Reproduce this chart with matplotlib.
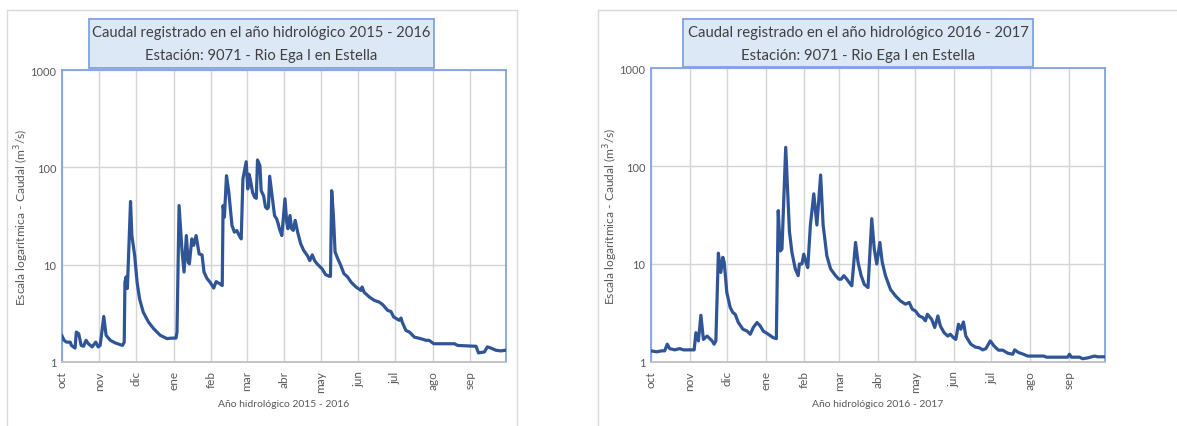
import matplotlib
matplotlib.use("Agg")
import matplotlib.pyplot as plt
import matplotlib.patches as mpatches
import pandas as pd

# ---------------- data ----------------
month_labels = ['oct', 'nov', 'dic', 'ene', 'feb', 'mar', 'abr', 'may', 'jun', 'jul', 'ago', 'sep']
y_ticks = [1, 10, 100, 1000]
y_tick_labels = ['1', '10', '100', '1000']

title1_a = "Caudal registrado en el año hidrológico 2015 - 2016"
title1_b = "Estación: 9071 - Rio Ega I en Estella"
xlabel1 = "Año hidrológico 2015 - 2016"
title2_a = "Caudal registrado en el año hidrológico 2016 - 2017"
title2_b = "Estación: 9071 - Rio Ega I en Estella"
xlabel2 = "Año hidrológico 2016 - 2017"
ylabel = "Escala logarítmica - Caudal (m$^3$/s)"

start1 = "2015-10-01"
end1 = "2016-09-30"
start2 = "2016-10-01"
end2 = "2017-09-30"

# day offsets from start of hydrological year, and flow (m3/s)
days1 = [0, 2, 4, 7, 8, 11, 12, 14, 16, 18, 20, 22, 25, 28, 30, 31.6, 34.6, 36.5, 40, 44,
         48, 50, 51.4, 52, 53, 54, 55, 56.6, 57.7, 60, 62, 64, 67, 71.4, 75.6, 81, 86.6, 90.7, 94, 94.8,
         96.5, 99, 100.6, 102.5, 104, 105, 107, 108.5, 110.5, 112, 113, 115.4, 117, 119.5, 122, 125, 127, 130.5, 132, 132.7,
         133.8, 135.5, 137.4, 140, 142, 144, 146, 147.6, 149, 151.7, 153, 154, 155, 157, 158.6, 160, 161, 163, 164, 166,
         167.6, 169, 170, 171, 173, 175, 176.7, 178, 179, 181, 183.6, 185, 186, 187.7, 189, 190.4, 192, 194, 196.5, 199,
         202, 204, 206, 208, 210, 214, 217, 220, 221, 222, 223.4, 224.8, 227, 229.5, 232, 235, 238, 242, 246, 247,
         248.7, 253, 257, 261, 264, 268, 270.7, 273, 277.5, 279, 280, 283, 286, 290, 295, 299.5, 302, 306, 323, 325.6,
         340.7, 342.7, 347.6, 350, 353, 357, 361, 365]
flow1 = [1.88, 1.67, 1.6, 1.6, 1.48, 1.39, 2.03, 1.95, 1.48, 1.45, 1.67, 1.54, 1.43, 1.6, 1.43, 1.48, 2.94, 1.88, 1.67, 1.57,
         1.51, 1.48, 1.6, 6.6, 7.5, 5.7, 12.4, 44.6, 19.9, 12.4, 6.6, 4.47, 3.26, 2.57, 2.2, 1.88, 1.74, 1.76, 1.76, 2.03,
         40.5, 13.5, 8.4, 19.9, 10.6, 10.2, 18.4, 15.8, 19.9, 15.2, 12.9, 12.6, 8.4, 7.2, 6.6, 5.75, 6.7, 6.3, 6.1, 40.5,
         30.8, 82, 55.5, 25.3, 21.6, 22.4, 19.9, 18.4, 76, 114, 60, 85, 76, 55, 49.4, 48, 119, 104, 57.6, 51,
         39, 37.5, 39, 81, 51, 32, 29.6, 26.4, 23.4, 19.9, 47.5, 27.4, 23.4, 32, 23.4, 22.5, 28.5, 21.6, 16.4, 14,
         12.4, 11, 12.6, 11, 10.2, 9.1, 7.9, 7.6, 7.6, 57.6, 32, 13.5, 11.5, 9.8, 8.1, 7.5, 6.6, 5.9, 5.44, 5.9,
         5.2, 4.65, 4.3, 4.13, 3.88, 3.39, 3.3, 2.9, 2.68, 2.83, 2.57, 2.11, 2.03, 1.8, 1.74, 1.67, 1.67, 1.54, 1.54, 1.48,
         1.45, 1.24, 1.27, 1.43, 1.39, 1.32, 1.30, 1.32]

days2 = [0, 4.5, 8.6, 11, 13, 15, 19, 23, 26, 31, 34.6, 36, 38, 40, 42, 45, 49, 50.6, 52, 54,
         56, 57.6, 58.7, 60.8, 63.5, 65.6, 67.5, 70, 73.7, 77, 79.6, 82, 85, 87.6, 90, 94, 98, 100.5, 102, 103.7,
         105, 108, 109.6, 111, 113, 115.7, 118, 119, 121, 122.5, 124.6, 125.7, 127.8, 130.5, 133, 136, 138, 141, 144, 148,
         150.6, 152.5, 154.6, 157, 160, 161, 164, 166, 168.5, 171, 174, 177, 179, 181, 183.5, 185.4, 188, 192, 196, 200,
         204, 207, 209.5, 212, 215, 218, 220, 221.6, 225, 227.5, 230, 232, 235, 238, 240, 242.5, 244.4, 246.5, 248.4, 250.5,
         252.4, 256.4, 260, 263, 266, 268.5, 272, 275, 278.6, 282, 286, 290, 291.6, 294.6, 298.6, 302, 315, 317, 334, 335.5,
         337, 343.6, 346, 350, 355.6, 358, 364]
flow2 = [1.30, 1.27, 1.30, 1.30, 1.52, 1.37, 1.33, 1.37, 1.33, 1.33, 1.33, 1.99, 1.64, 3.0, 1.7, 1.84, 1.64, 1.52, 1.64, 12.9,
         8.2, 11.7, 10.4, 5.1, 3.6, 3.2, 3.07, 2.53, 2.16, 2.07, 1.92, 2.25, 2.53, 2.33, 2.07, 1.92, 1.77, 1.73, 35, 13.6,
         14.2, 155, 54, 21.4, 13.1, 8.9, 7.6, 10, 10, 12.6, 10, 9.2, 25, 52, 25, 81, 25, 12.1, 8.9, 7.6,
         7.0, 7.0, 7.6, 7.0, 6.2, 6.0, 16.6, 10.4, 7.6, 6.2, 5.75, 29, 14.2, 10, 16.6, 10.4, 7.6, 5.5, 4.73, 4.2,
         3.89, 4.05, 3.46, 3.32, 2.95, 2.84, 2.63, 3.07, 2.73, 2.25, 2.95, 2.33, 1.99, 1.84, 1.92, 1.77, 1.7, 2.43, 2.16, 2.56,
         1.84, 1.52, 1.42, 1.40, 1.33, 1.37, 1.64, 1.46, 1.32, 1.32, 1.23, 1.2, 1.33, 1.25, 1.2, 1.15, 1.15, 1.12, 1.12, 1.2,
         1.12, 1.12, 1.08, 1.10, 1.15, 1.13, 1.13]

# ---------------- style ----------------
FONT = ['Lato', 'DejaVu Sans']
plt.rcParams['font.family'] = FONT
LINE_C = '#2F5597'
SPINE_C = '#7FA3E0'
GRID_C = '#D4D4D4'
TEXT_C = '#595959'
TITLE_C = '#404040'
BOX_FC = '#DCE8F6'

W, H = 1177, 427
fig = plt.figure(figsize=(W / 100, H / 100), dpi=100)


def fx(px):
    return px / W


def fy(py):
    return 1 - py / H


# panel frames
for (x0, x1) in [(7, 517), (598, 1185)]:
    fig.patches.append(mpatches.Rectangle((fx(x0), fy(440)), fx(x1 - x0), (440 - 11) / H,
                                          transform=fig.transFigure, fill=False,
                                          edgecolor='#D9D9D9', linewidth=1.0))


def make_panel(ax_px, box_px, ylab_x, start, end, days, flow, t_a, t_b, xlab):
    l, r, t, b = ax_px
    ax = fig.add_axes([fx(l), fy(b), fx(r - l), (b - t) / H])
    d0 = pd.Timestamp(start)
    dates = d0 + pd.to_timedelta(days, unit='D')
    ax.plot(dates, flow, color=LINE_C, lw=2.3, solid_joinstyle='round', zorder=3)
    ax.set_yscale('log')
    ax.set_ylim(1, 1000)
    ax.set_xlim(d0, pd.Timestamp(end))
    ax.set_yticks(y_ticks)
    ax.set_yticklabels(y_tick_labels)
    ax.yaxis.set_minor_locator(matplotlib.ticker.NullLocator())
    mstarts = pd.date_range(d0, periods=12, freq='MS')
    ax.set_xticks(mstarts)
    ax.set_xticklabels(month_labels, rotation=90, va='top', ha='center')
    ax.tick_params(axis='both', length=0, colors=TEXT_C)
    ax.tick_params(axis='x', pad=6, labelsize=8.5)
    ax.tick_params(axis='y', pad=4, labelsize=8)
    ax.grid(True, color=GRID_C, lw=1.0, zorder=0)
    ax.set_axisbelow(True)
    for s in ['left', 'top', 'right']:
        ax.spines[s].set_color(SPINE_C)
        ax.spines[s].set_linewidth(1.3)
    ax.spines['bottom'].set_color('#BFBFBF')
    ax.spines['bottom'].set_linewidth(1.3)

    # title box
    bl, br, bt, bb = box_px
    fig.patches.append(mpatches.Rectangle((fx(bl), fy(bb)), fx(br - bl), (bb - bt) / H,
                                          transform=fig.transFigure, facecolor=BOX_FC,
                                          edgecolor=SPINE_C, linewidth=1.3, zorder=5))
    cx = (bl + br) / 2
    ta = fig.text(fx(cx), fy(33.5), t_a, ha='center', va='center', color=TITLE_C, fontsize=11, zorder=6)
    tb = fig.text(fx(cx), fy(56), t_b, ha='center', va='center', color=TITLE_C, fontsize=11, zorder=6)
    xl = fig.text(fx((l + r) / 2), fy(405), xlab, ha='center', va='center', color=TEXT_C, fontsize=8)
    yl = fig.text(fx(ylab_x), fy((t + b) / 2), ylabel, ha='center', va='center', rotation=90,
                  color=TEXT_C, fontsize=8)
    return ta, tb, xl, yl


objs1 = make_panel((61.7, 505.6, 71, 363), (89, 434, 20, 69), 22, start1, end1, days1, flow1,
                   title1_a, title1_b, xlabel1)
objs2 = make_panel((651, 1105, 69, 363), (683, 1033, 20, 68), 611, start2, end2, days2, flow2,
                   title2_a, title2_b, xlabel2)

fig.canvas.draw()
rend = fig.canvas.get_renderer()


def fit(tobj, target, vertical=False):
    bb = tobj.get_window_extent(rend)
    cur = bb.height if vertical else bb.width
    tobj.set_fontsize(tobj.get_fontsize() * target / cur)


for (ta, tb, xl, yl), tw in [(objs1, 337), (objs2, 342)]:
    fit(ta, tw)
    tb.set_fontsize(ta.get_fontsize())
    fit(xl, 133)
    fit(yl, 178, vertical=True)

fig.savefig('out.png', dpi=100, facecolor='white')
